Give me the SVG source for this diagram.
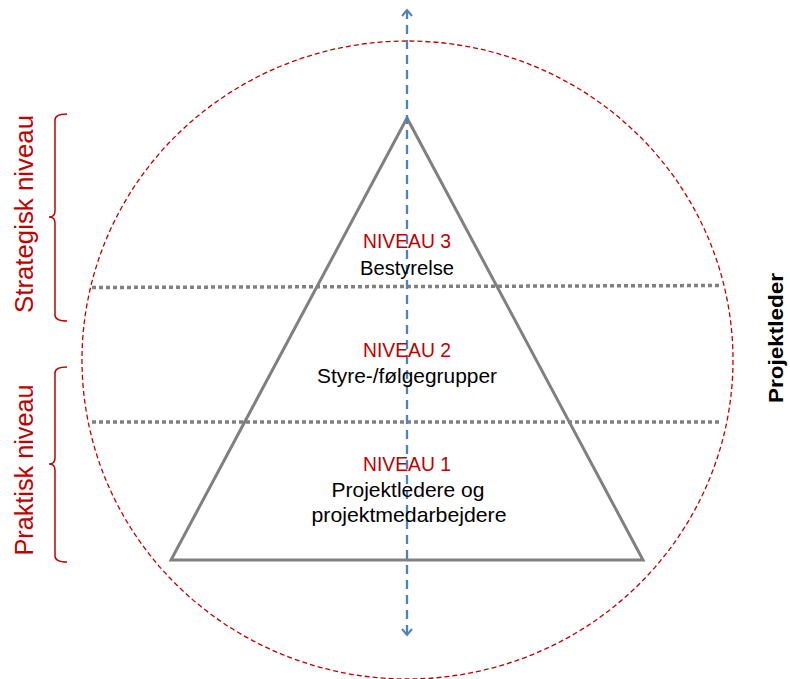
<svg xmlns="http://www.w3.org/2000/svg" width="790" height="679" viewBox="0 0 790 679">
<defs>
<style>
.red{fill:#C00000}
.blk{fill:#000}
.t{font-family:"Liberation Sans",Arial,sans-serif;font-size:21px;text-anchor:middle}
.side{font-family:"Liberation Sans",Arial,sans-serif;font-size:25px;text-anchor:middle;fill:#C00000}
.brace{fill:none;stroke:#C00000;stroke-width:1.5}
.sep{stroke:#808080;stroke-width:3.5;stroke-dasharray:4 3;fill:none}
</style>
<marker id="chev" viewBox="0 0 12 12" refX="9" refY="6" markerWidth="12" markerHeight="12" markerUnits="userSpaceOnUse" orient="auto-start-reverse">
<path d="M3,1 L9,6 L3,11" fill="none" stroke="#4F81BD" stroke-width="2"/>
</marker>
</defs>
<rect width="790" height="679" fill="#fff"/>
<g id="circle"><ellipse cx="407.5" cy="360" rx="325.5" ry="319" fill="none" stroke="#C00000" stroke-width="1.3" stroke-dasharray="5 3"/></g>
<g id="pyramid"><polygon points="407,118 171,560 643,560" fill="none" stroke="#808080" stroke-width="3"/></g>
<g id="separators">
<line class="sep" x1="92" y1="287.5" x2="720" y2="285.5"/>
<line class="sep" x1="92" y1="422" x2="722" y2="422"/>
</g>
<g id="connectors">
<line x1="407" y1="10" x2="407" y2="635" stroke="#4F81BD" stroke-width="2.3" stroke-dasharray="9 6" marker-start="url(#chev)" marker-end="url(#chev)"/>
</g>
<g id="niveau3">
<text class="t red" x="407" y="248" textLength="88" lengthAdjust="spacingAndGlyphs">NIVEAU 3</text>
<text class="t blk" x="407" y="275" textLength="94" lengthAdjust="spacingAndGlyphs">Bestyrelse</text>
</g>
<g id="niveau2">
<text class="t red" x="407" y="357" textLength="88" lengthAdjust="spacingAndGlyphs">NIVEAU 2</text>
<text class="t blk" x="407" y="383" textLength="180" lengthAdjust="spacingAndGlyphs">Styre-/følgegrupper</text>
</g>
<g id="niveau1">
<text class="t red" x="407" y="471" textLength="88" lengthAdjust="spacingAndGlyphs">NIVEAU 1</text>
<text class="t blk" x="408" y="497" textLength="153" lengthAdjust="spacingAndGlyphs">Projektledere og</text>
<text class="t blk" x="409" y="522" textLength="195" lengthAdjust="spacingAndGlyphs">projektmedarbejdere</text>
</g>
<g id="strategisk">
<path class="brace" d="M67,114 Q55,114 55,120 L55,211 Q55,217 49,217 Q55,217 55,223 L55,315 Q55,321 67,321"/>
<text class="side" transform="translate(33,214) rotate(-90)" x="0" y="0" textLength="198" lengthAdjust="spacingAndGlyphs">Strategisk niveau</text>
</g>
<g id="praktisk">
<path class="brace" d="M67,367 Q55,367 55,373 L55,458 Q55,464 49,464 Q55,464 55,470 L55,556 Q55,562 67,562"/>
<text class="side" transform="translate(33,470) rotate(-90)" x="0" y="0" textLength="171" lengthAdjust="spacingAndGlyphs">Praktisk niveau</text>
</g>
<g id="projektleder">
<text transform="translate(783,338) rotate(-90)" x="0" y="0" font-family="Liberation Sans,Arial,sans-serif" font-size="21" font-weight="bold" text-anchor="middle" textLength="130" lengthAdjust="spacingAndGlyphs">Projektleder</text>
</g>
</svg>
